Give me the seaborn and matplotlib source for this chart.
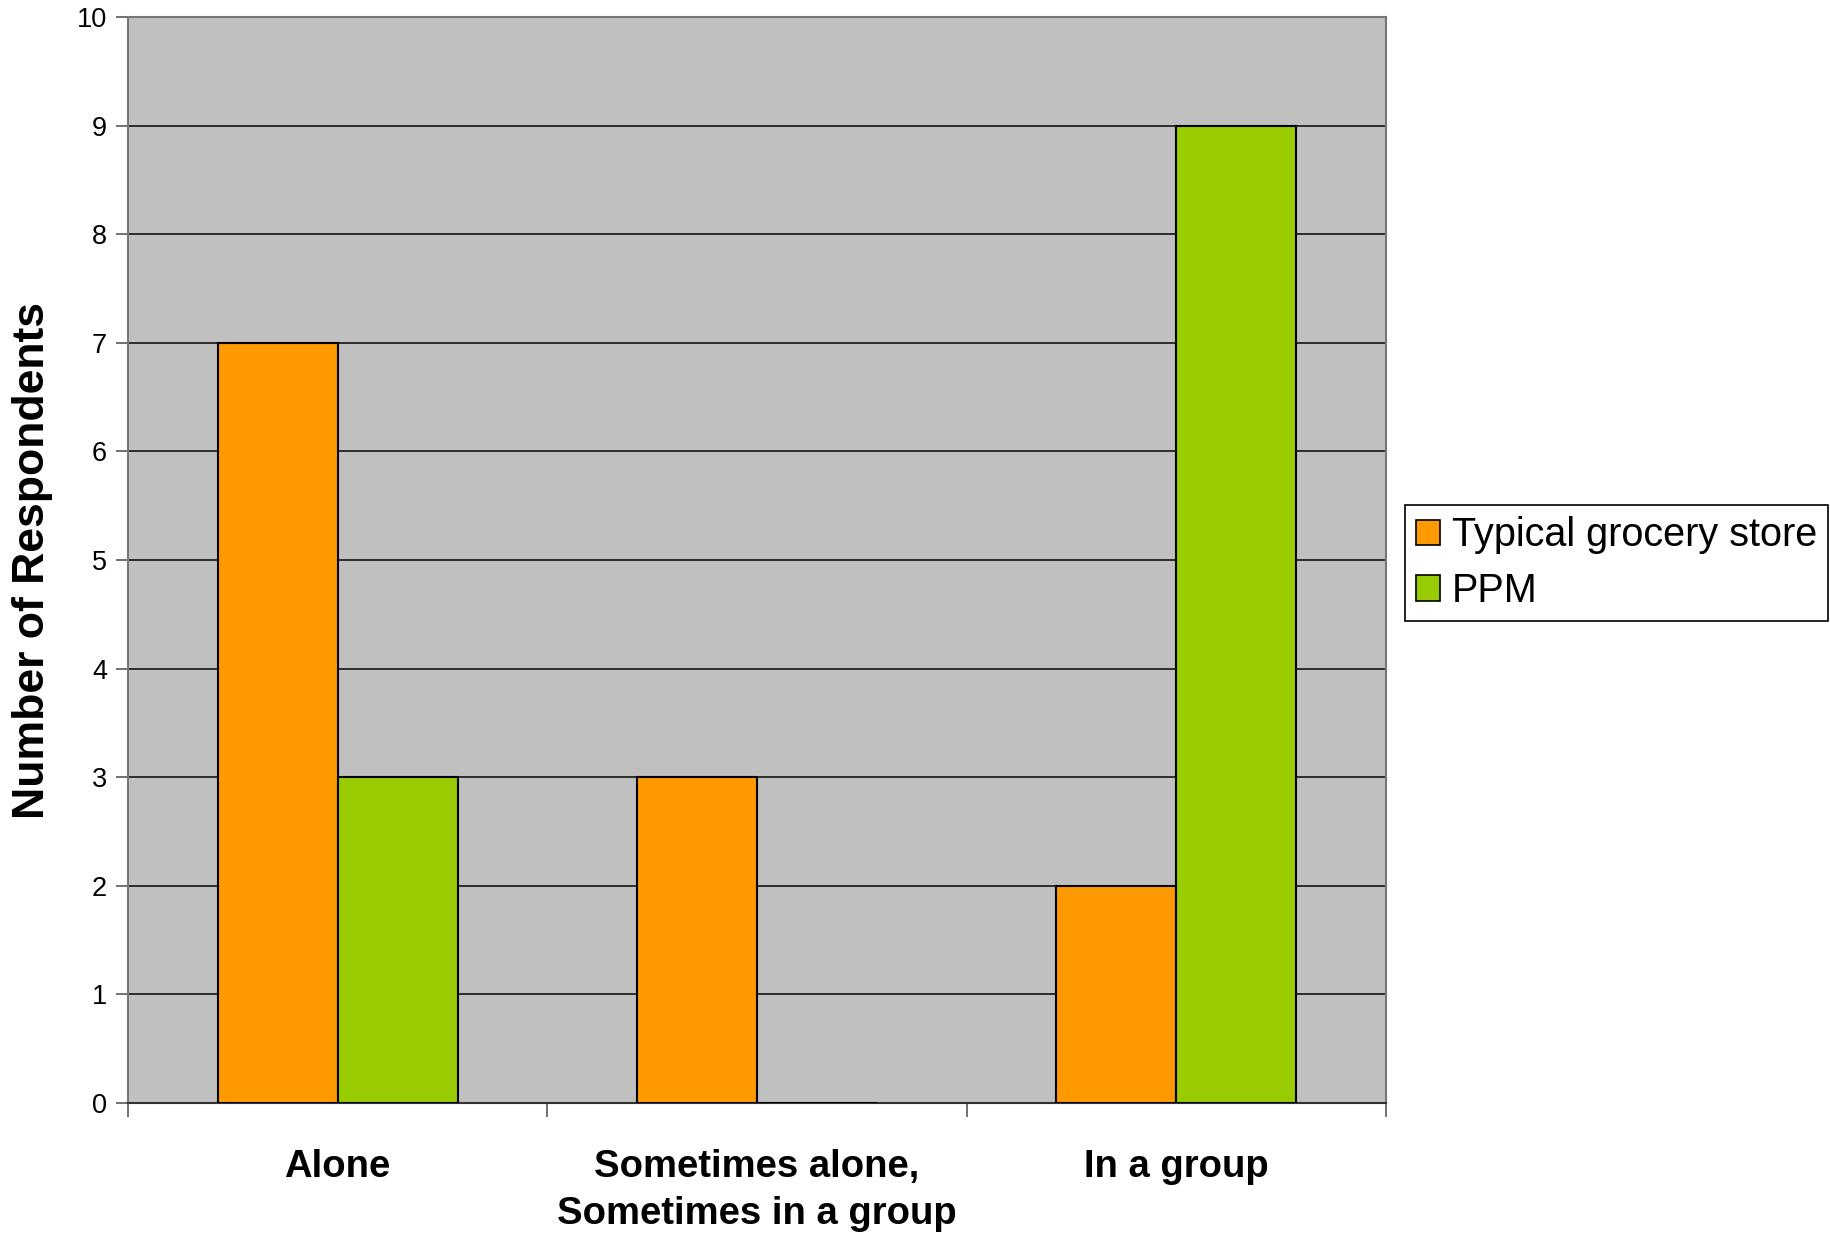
import matplotlib
matplotlib.use("Agg")
import matplotlib.pyplot as plt
import seaborn as sns
import pandas as pd
from matplotlib.patches import Patch

categories = ["Alone", "Sometimes alone,\nSometimes in a group", "In a group"]
series_names = ["Typical grocery store", "PPM"]
typical_values = [7, 3, 2]
ppm_values = [3, 0, 9]
colors = ["#FF9900", "#99CC00"]
y_ticks = [0, 1, 2, 3, 4, 5, 6, 7, 8, 9, 10]

df = pd.DataFrame({
    "category": categories * 2,
    "series": [series_names[0]] * 3 + [series_names[1]] * 3,
    "value": typical_values + ppm_values,
})

sns.set_theme(style="white")
plt.rcParams["font.family"] = ["Liberation Sans", "DejaVu Sans"]
plt.rcParams["text.color"] = "black"
plt.rcParams["xtick.color"] = "black"
plt.rcParams["ytick.color"] = "black"

fig = plt.figure(figsize=(18.31, 12.35), dpi=100)
ax = fig.add_axes([128 / 1831, 1 - 1103 / 1235, (1386 - 128) / 1831, (1103 - 17) / 1235])
ax.set_facecolor("#C0C0C0")

sns.barplot(data=df, x="category", y="value", hue="series", order=categories,
            hue_order=series_names, palette=colors, width=0.572, gap=0,
            edgecolor="black", linewidth=1.5, saturation=1, legend=False, ax=ax, zorder=3)

ax.set_ylim(0, 10)
ax.set_xlim(-0.5, 2.5)
ax.set_yticks(y_ticks)
ax.set_yticklabels([str(t) for t in y_ticks], fontsize=19.5, color="black")
ax.yaxis.grid(True, color="#222222", linewidth=1.3, zorder=1)
ax.set_axisbelow(True)

# category boundary ticks on x axis
ax.set_xticks([-0.5, 0.5, 1.5, 2.5])
ax.set_xticklabels([])
ax.tick_params(axis="x", which="major", direction="out", length=10, width=1.3, color="#666666", bottom=True)
ax.tick_params(axis="y", which="major", direction="out", length=9, width=1.3, color="#666666", left=True, pad=6)
for i, cat in enumerate(categories):
    ax.text(i, -0.42, cat, ha="center", va="top", fontsize=27.5, fontweight="bold",
            linespacing=1.4, color="black", transform=ax.transData)

ax.set_xlabel("")
ax.set_ylabel("")
fig.text(33 / 1831, 1 - 560 / 1235, "Number of Respondents", rotation=90,
         ha="center", va="center", fontsize=32, fontweight="bold", color="black")

for side in ["left", "right", "top"]:
    ax.spines[side].set_color("#777777")
    ax.spines[side].set_linewidth(1.5)
ax.spines["bottom"].set_color("#333333")
ax.spines["bottom"].set_linewidth(1.5)

handles = [Patch(facecolor=c, edgecolor="black", linewidth=1.2) for c in colors]
leg = fig.legend(handles, series_names, loc="upper left",
                 bbox_to_anchor=(1405 / 1831, 1 - 505 / 1235), fontsize=28.5,
                 frameon=True, fancybox=False, edgecolor="black", framealpha=1,
                 handlelength=0.6, handleheight=0.6, handletextpad=0.3,
                 borderpad=0.28, labelspacing=0.45, borderaxespad=0)
leg.get_frame().set_linewidth(1.2)
for t in leg.get_texts():
    t.set_color("black")

fig.savefig("out.png", dpi=100, facecolor="white")
